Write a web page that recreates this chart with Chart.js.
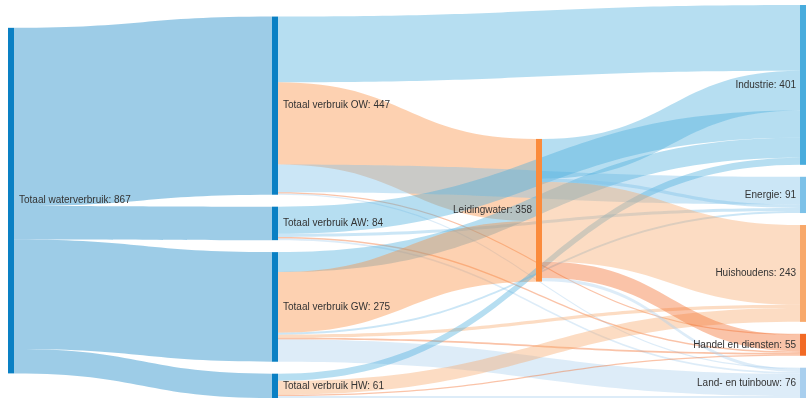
<!DOCTYPE html>
<html>
<head>
<meta charset="utf-8">
<title>Waterverbruik sankey</title>
<script src="https://cdn.jsdelivr.net/npm/chart.js@4.4.1/dist/chart.umd.min.js"></script>
<style>
    body { margin: 0; background: #fff; }
    #wrap { width: 806px; height: 400px; }
</style>
</head>
<body>
<div id="wrap"><canvas id="sankeyChart" width="806" height="400"></canvas></div>
<script>
// Nodes (in column order, top to bottom)
const nodeNames = [
    'Totaal waterverbruik',
    'Totaal verbruik OW', 'Totaal verbruik AW', 'Totaal verbruik GW', 'Totaal verbruik HW',
    'Leidingwater',
    'Industrie', 'Energie', 'Huishoudens', 'Handel en diensten', 'Land- en tuinbouw'
];

// Flows (mln m3)
const flowFrom = [
    'Totaal waterverbruik', 'Totaal waterverbruik', 'Totaal waterverbruik', 'Totaal waterverbruik',
    'Totaal verbruik OW', 'Totaal verbruik OW', 'Totaal verbruik OW', 'Totaal verbruik OW', 'Totaal verbruik OW',
    'Totaal verbruik AW', 'Totaal verbruik AW', 'Totaal verbruik AW', 'Totaal verbruik AW',
    'Totaal verbruik GW', 'Totaal verbruik GW', 'Totaal verbruik GW', 'Totaal verbruik GW', 'Totaal verbruik GW', 'Totaal verbruik GW',
    'Totaal verbruik HW', 'Totaal verbruik HW', 'Totaal verbruik HW', 'Totaal verbruik HW',
    'Leidingwater', 'Leidingwater', 'Leidingwater', 'Leidingwater', 'Leidingwater'
];
const flowTo = [
    'Totaal verbruik OW', 'Totaal verbruik AW', 'Totaal verbruik GW', 'Totaal verbruik HW',
    'Industrie', 'Leidingwater', 'Energie', 'Handel en diensten', 'Land- en tuinbouw',
    'Industrie', 'Energie', 'Handel en diensten', 'Land- en tuinbouw',
    'Industrie', 'Leidingwater', 'Energie', 'Huishoudens', 'Handel en diensten', 'Land- en tuinbouw',
    'Industrie', 'Huishoudens', 'Handel en diensten', 'Land- en tuinbouw',
    'Industrie', 'Energie', 'Huishoudens', 'Handel en diensten', 'Land- en tuinbouw'
];
const flowValue = [
    447, 84, 275, 61,
    165, 206, 70, 3, 3,
    68, 8, 4, 4,
    50, 152, 5, 8, 4, 56,
    18, 35, 3, 5,
    100, 8, 200, 41, 8
];

// Styling
const nodeColors = {
    'Totaal waterverbruik': '#0a80c4',
    'Totaal verbruik OW': '#0a80c4',
    'Totaal verbruik AW': '#0a80c4',
    'Totaal verbruik GW': '#0a80c4',
    'Totaal verbruik HW': '#0a80c4',
    'Leidingwater': '#fb8b3c',
    'Industrie': '#48acdd',
    'Energie': '#7cc1e8',
    'Huishoudens': '#f8a86a',
    'Handel en diensten': '#f26a25',
    'Land- en tuinbouw': '#a9cfee'
};
const NODE_W = 6;      // px
const NODE_GAP = 30;   // value units between stacked nodes
const LINK_ALPHA = 0.4;

// Build graph
const nodes = nodeNames.map(name => ({ name, col: 0, inLinks: [], outLinks: [] }));
const byName = {};
nodes.forEach(n => byName[n.name] = n);
const links = flowValue.map((v, i) => ({ s: byName[flowFrom[i]], t: byName[flowTo[i]], value: v }));
links.forEach(l => { l.s.outLinks.push(l); l.t.inLinks.push(l); });

const sum = arr => arr.reduce((a, l) => a + l.value, 0);
nodes.forEach(n => n.value = Math.max(sum(n.inLinks), sum(n.outLinks)));

// column = longest path from the source
let changed = true;
while (changed) {
    changed = false;
    links.forEach(l => {
        if (l.t.col < l.s.col + 1) { l.t.col = l.s.col + 1; changed = true; }
    });
}
const nCols = Math.max(...nodes.map(n => n.col)) + 1;
const columns = [];
for (let c = 0; c < nCols; c++) columns.push(nodes.filter(n => n.col === c));

const yMax = Math.max(...columns.map(col => col.reduce((a, n) => a + n.value, 0) + (col.length - 1) * NODE_GAP));

// Layout (relaxation towards neighbours, in value units)
columns.forEach(col => {
    const total = col.reduce((a, n) => a + n.value, 0) + (col.length - 1) * NODE_GAP;
    let y = (yMax - total) / 2;
    col.forEach(n => { n.y0 = y; n.y1 = y + n.value; y = n.y1 + NODE_GAP; });
});

function resolve(col) {
    let y = 0;
    col.forEach(n => {
        if (n.y0 < y) { n.y0 = y; n.y1 = y + n.value; }
        y = n.y1 + NODE_GAP;
    });
    y = yMax;
    for (let i = col.length - 1; i >= 0; i--) {
        const n = col[i];
        if (n.y1 > y) { n.y1 = y; n.y0 = y - n.value; }
        y = n.y0 - NODE_GAP;
    }
}

function relax(col, alpha) {
    col.forEach(n => {
        let w = 0, c = 0;
        n.inLinks.forEach(l => { c += l.value * (l.s.y0 + l.s.y1) / 2; w += l.value; });
        n.outLinks.forEach(l => { c += l.value * (l.t.y0 + l.t.y1) / 2; w += l.value; });
        if (!w) return;
        const dy = (c / w - (n.y0 + n.y1) / 2) * alpha;
        n.y0 += dy; n.y1 += dy;
    });
}

for (let it = 0, alpha = 1; it < 6; it++, alpha *= 0.99) {
    for (let c = 1; c < nCols; c++) { relax(columns[c], alpha); resolve(columns[c]); }
    for (let c = nCols - 2; c >= 0; c--) { relax(columns[c], alpha); resolve(columns[c]); }
}

// link offsets inside nodes
nodes.forEach(n => {
    n.outLinks.sort((a, b) => a.t.y0 - b.t.y0);
    n.inLinks.sort((a, b) => a.s.y0 - b.s.y0);
    let y = n.y0;
    n.outLinks.forEach(l => { l.sy = y; y += l.value; });
    y = n.y0;
    n.inLinks.forEach(l => { l.ty = y; y += l.value; });
});

function rgba(hex, a) {
    const r = parseInt(hex.slice(1, 3), 16), g = parseInt(hex.slice(3, 5), 16), b = parseInt(hex.slice(5, 7), 16);
    return 'rgba(' + r + ',' + g + ',' + b + ',' + a + ')';
}

// Plugin that draws the sankey through the chart's scales
const sankeyPlugin = {
    id: 'sankey',
    afterDraw(chart) {
        const ctx = chart.ctx;
        const xs = chart.scales.x, ys = chart.scales.y;
        ctx.save();

        links.forEach(l => {
            const x0 = xs.getPixelForValue(l.s.col) + NODE_W;
            const x1 = xs.getPixelForValue(l.t.col);
            const xm = (x0 + x1) / 2;
            const s0 = ys.getPixelForValue(l.sy), s1 = ys.getPixelForValue(l.sy + l.value);
            const t0 = ys.getPixelForValue(l.ty), t1 = ys.getPixelForValue(l.ty + l.value);
            ctx.beginPath();
            ctx.moveTo(x0, s0);
            ctx.bezierCurveTo(xm, s0, xm, t0, x1, t0);
            ctx.lineTo(x1, t1);
            ctx.bezierCurveTo(xm, t1, xm, s1, x0, s1);
            ctx.closePath();
            ctx.fillStyle = rgba(nodeColors[l.t.name], LINK_ALPHA);
            ctx.fill();
        });

        nodes.forEach(n => {
            const x = xs.getPixelForValue(n.col);
            const y0 = ys.getPixelForValue(n.y0), y1 = ys.getPixelForValue(n.y1);
            ctx.fillStyle = nodeColors[n.name];
            ctx.fillRect(x, y0, NODE_W, y1 - y0);
        });

        ctx.font = "10px Arial, 'Liberation Sans', sans-serif";
        ctx.fillStyle = '#333333';
        ctx.textBaseline = 'middle';
        nodes.forEach(n => {
            const x = xs.getPixelForValue(n.col);
            const yc = ys.getPixelForValue((n.y0 + n.y1) / 2);
            const text = n.name + ': ' + n.value;
            if (n.col < 2) {
                ctx.textAlign = 'left';
                ctx.fillText(text, x + NODE_W + 5, yc);
            } else {
                ctx.textAlign = 'right';
                ctx.fillText(text, x - 4, yc);
            }
        });
        ctx.restore();
    }
};

new Chart(document.getElementById('sankeyChart'), {
    type: 'scatter',
    data: { datasets: [] },
    options: {
        responsive: false,
        animation: false,
        layout: { padding: { left: 8, right: NODE_W, top: 5, bottom: 2 } },
        plugins: { legend: { display: false }, tooltip: { enabled: false } },
        scales: {
            x: { type: 'linear', min: 0, max: nCols - 1, display: false },
            y: { type: 'linear', min: 0, max: yMax, reverse: true, display: false }
        }
    },
    plugins: [sankeyPlugin]
});
</script>
</body>
</html>
